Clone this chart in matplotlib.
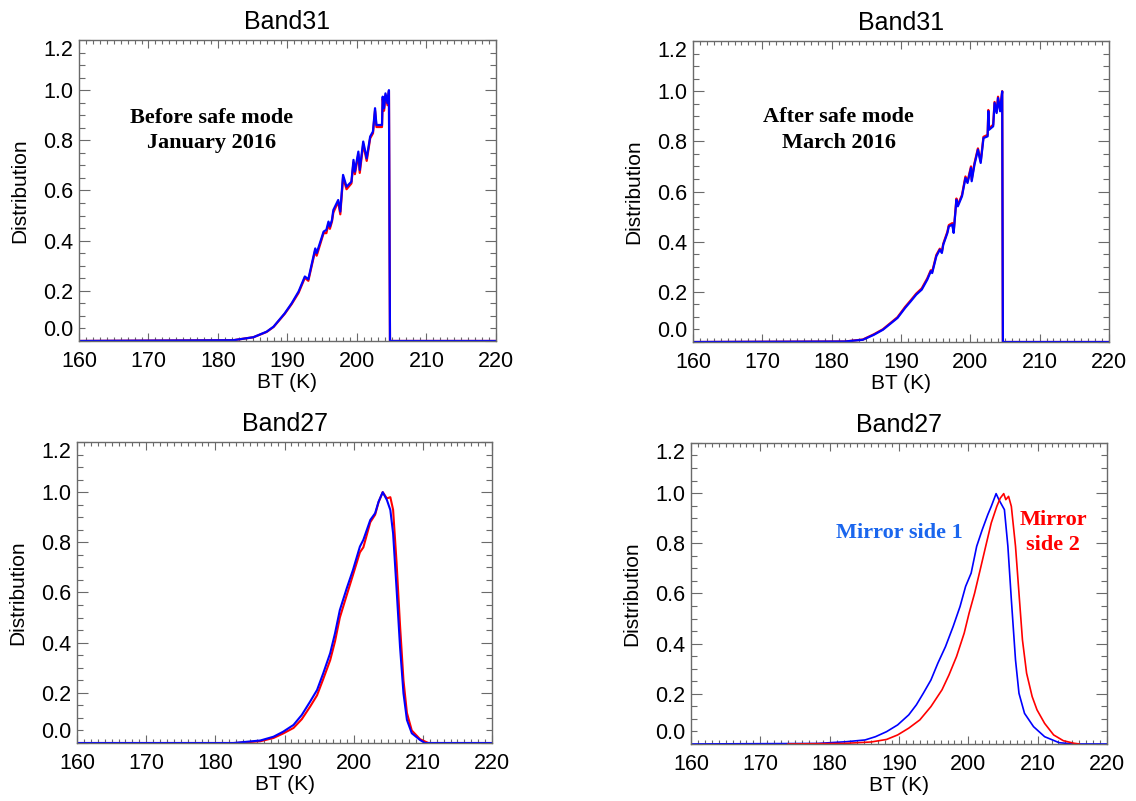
import matplotlib
matplotlib.use("Agg")
import matplotlib.pyplot as plt
from matplotlib.ticker import MultipleLocator

plt.rcParams['font.family'] = ['Liberation Sans', 'DejaVu Sans']

# ---- Band31, before safe mode (January 2016) ----
b31_jan_x = [160, 182.2, 185.1, 187.0, 188.0, 189.6, 190.6, 191.6, 192.5, 193.0, 194.0, 194.2,
             195.2, 195.6, 195.9, 196.1, 196.4, 196.6, 197.3, 197.6, 198.0, 198.5, 199.2,
             199.5, 199.7, 200.2, 200.4, 200.9, 201.4, 201.9, 202.3, 202.6, 202.8, 203.6,
             203.7, 203.9, 204.1, 204.4, 204.6, 204.75, 220]
b31_jan_ms1 = [0, 0.003, 0.015, 0.037, 0.057, 0.110, 0.150, 0.197, 0.257, 0.246, 0.369, 0.350,
               0.436, 0.443, 0.476, 0.456, 0.482, 0.522, 0.562, 0.516, 0.662, 0.615, 0.635,
               0.722, 0.675, 0.755, 0.682, 0.795, 0.728, 0.815, 0.835, 0.928, 0.861, 0.861,
               0.974, 0.928, 0.987, 0.948, 1.0, 0, 0]
b31_jan_ms2 = [0, 0.003, 0.015, 0.036, 0.056, 0.108, 0.147, 0.192, 0.252, 0.240, 0.362, 0.340,
               0.430, 0.430, 0.468, 0.447, 0.476, 0.512, 0.555, 0.505, 0.652, 0.605, 0.628,
               0.712, 0.665, 0.745, 0.670, 0.785, 0.718, 0.808, 0.828, 0.918, 0.853, 0.853,
               0.966, 0.918, 0.980, 0.940, 0.995, 0, 0]

# ---- Band31, after safe mode (March 2016) ----
b31_mar_x = [160, 181.9, 184.5, 186.1, 187.4, 189.5, 190.6, 191.4, 192.2, 193.0, 193.8, 194.3,
             194.5, 195.1, 195.6, 195.9, 196.1, 196.7, 196.9, 197.4, 197.6, 198.0, 198.2,
             198.8, 199.3, 199.6, 200.1, 200.2, 200.6, 201.1, 201.5, 201.9, 202.5, 202.6,
             202.7, 203.3, 203.5, 203.8, 204.0, 204.3, 204.6, 204.7, 220]
b31_mar_ms1 = [0, 0.002, 0.009, 0.029, 0.049, 0.096, 0.136, 0.162, 0.189, 0.209, 0.249, 0.282,
               0.275, 0.342, 0.368, 0.355, 0.388, 0.435, 0.461, 0.468, 0.435, 0.567, 0.541,
               0.581, 0.654, 0.634, 0.694, 0.641, 0.707, 0.767, 0.714, 0.813, 0.820, 0.920,
               0.846, 0.860, 0.953, 0.913, 0.973, 0.920, 0.999, 0, 0]
b31_mar_ms2 = [0, 0.002, 0.010, 0.031, 0.051, 0.099, 0.140, 0.166, 0.193, 0.214, 0.254, 0.286,
               0.280, 0.347, 0.372, 0.360, 0.392, 0.440, 0.466, 0.474, 0.440, 0.572, 0.547,
               0.586, 0.660, 0.640, 0.700, 0.648, 0.713, 0.772, 0.720, 0.818, 0.826, 0.925,
               0.852, 0.866, 0.957, 0.918, 0.978, 0.926, 1.0, 0, 0]

# ---- Band27, before safe mode ----
b27_jan_x1 = [160, 182.6, 186.5, 188.4, 189.8, 191.3, 192.5, 193.7, 194.7, 195.6, 196.6, 197.3,
              198.0, 199.0, 199.9, 200.9, 201.4, 202.4, 203.1, 203.6, 204.2, 204.8, 205.3,
              205.7, 206.2, 206.7, 207.2, 207.7, 208.4, 209.6, 210.3, 220]
b27_jan_ms1 = [0, 0, 0.010, 0.025, 0.045, 0.072, 0.112, 0.165, 0.211, 0.278, 0.358, 0.437,
               0.530, 0.617, 0.690, 0.783, 0.810, 0.889, 0.916, 0.962, 1.0, 0.969, 0.929,
               0.836, 0.615, 0.384, 0.198, 0.092, 0.039, 0.012, 0, 0]
b27_jan_x2 = [160, 183.0, 186.5, 188.4, 189.8, 191.3, 192.5, 193.7, 194.7, 195.6, 196.6, 197.3,
              198.0, 199.0, 199.9, 200.9, 201.4, 202.4, 203.1, 203.6, 204.2, 204.8, 205.3,
              205.7, 206.2, 206.7, 207.2, 207.7, 208.4, 209.6, 210.8, 220]
b27_jan_ms2 = [0, 0, 0.007, 0.020, 0.038, 0.060, 0.095, 0.145, 0.190, 0.255, 0.330, 0.405,
               0.500, 0.590, 0.670, 0.760, 0.780, 0.880, 0.910, 0.960, 1.0, 0.975, 0.980,
               0.930, 0.720, 0.470, 0.250, 0.120, 0.050, 0.015, 0, 0]

# ---- Band27, after safe mode: mirror side 1 vs mirror side 2 ----
b27_mar_x1 = [160, 178.2, 182.4, 185.1, 186.6, 188.2, 189.8, 191.4, 192.5, 193.5, 194.6, 195.6,
              196.7, 197.8, 198.8, 199.6, 200.4, 201.2, 202.0, 202.8, 203.3, 204.0, 204.4,
              205.2, 205.7, 206.2, 206.8, 207.3, 208.1, 209.4, 211.0, 213.1, 215.2, 220]
b27_mar_ms1 = [0, 0.002, 0.009, 0.016, 0.029, 0.049, 0.076, 0.116, 0.156, 0.202, 0.255, 0.322,
               0.388, 0.468, 0.548, 0.628, 0.681, 0.788, 0.854, 0.914, 0.947, 0.998, 0.974,
               0.934, 0.788, 0.575, 0.335, 0.202, 0.122, 0.069, 0.029, 0.005, 0, 0]
b27_mar_x2 = [174, 182.0, 186.0, 188.2, 189.8, 191.4, 193.0, 194.6, 196.2, 197.2, 198.3, 199.4,
              200.1, 200.9, 201.7, 202.5, 203.3, 204.1, 204.6, 205.1, 205.4, 205.8, 206.2,
              206.8, 207.3, 207.8, 208.4, 209.2, 209.9, 211.0, 212.3, 213.7, 215.2, 216.0]
b27_mar_ms2 = [0, 0.002, 0.008, 0.018, 0.036, 0.063, 0.096, 0.149, 0.216, 0.275, 0.349, 0.442,
               0.521, 0.601, 0.694, 0.788, 0.881, 0.947, 0.980, 0.998, 0.974, 0.987, 0.947,
               0.788, 0.601, 0.415, 0.282, 0.189, 0.136, 0.082, 0.036, 0.013, 0.003, 0]

FRAME = '#6a6a6a'
BLUE_TXT = '#1a66ee'
SERIF = ['Liberation Serif', 'DejaVu Serif']


def style_axes(ax, title):
    ax.set_xlim(160, 220)
    ax.set_ylim(0, 1.2)
    ax.set_xticks([160, 170, 180, 190, 200, 210, 220])
    ax.set_yticks([0.0, 0.2, 0.4, 0.6, 0.8, 1.0, 1.2])
    ax.set_yticklabels(['0.0', '0.2', '0.4', '0.6', '0.8', '1.0', '1.2'])
    ax.xaxis.set_minor_locator(MultipleLocator(1))
    ax.yaxis.set_minor_locator(MultipleLocator(0.05))
    ax.tick_params(axis='both', which='both', direction='in', top=True, right=True,
                   color=FRAME, labelsize=15.5, width=0.8)
    ax.tick_params(axis='x', which='major', length=5.5, pad=7)
    ax.tick_params(axis='x', which='minor', length=2.7)
    ax.tick_params(axis='y', which='major', length=8, pad=4)
    ax.tick_params(axis='y', which='minor', length=4)
    for sp in ax.spines.values():
        sp.set_color(FRAME)
        sp.set_linewidth(1.0)
    ax.set_title(title, fontsize=18, pad=8)
    ax.set_xlabel('BT (K)', fontsize=15, labelpad=1)
    ax.set_ylabel('Distribution', fontsize=15, labelpad=10)
    ticks = ax.yaxis.get_major_ticks()
    ticks[0].label1.set_va('bottom')
    ticks[-1].label1.set_va('top')


fig = plt.figure(figsize=(11.36, 8.01), dpi=100)
ax_tl = fig.add_axes([0.0695, 0.5743, 0.3671, 0.3758])
ax_tr = fig.add_axes([0.6100, 0.5730, 0.3662, 0.3758])
ax_bl = fig.add_axes([0.0678, 0.0724, 0.3653, 0.3758])
ax_br = fig.add_axes([0.6083, 0.0712, 0.3662, 0.3758])

ax_tl.plot(b31_jan_x, b31_jan_ms2, color='red', lw=1.6)
ax_tl.plot(b31_jan_x, b31_jan_ms1, color='blue', lw=1.6)
ax_tl.text(179.1, 0.84, 'Before safe mode\nJanuary 2016', ha='center', va='center',
           fontsize=16, fontweight='bold', family=SERIF, linespacing=1.35)
style_axes(ax_tl, 'Band31')

ax_tr.plot(b31_mar_x, b31_mar_ms2, color='red', lw=1.6)
ax_tr.plot(b31_mar_x, b31_mar_ms1, color='blue', lw=1.6)
ax_tr.text(181.0, 0.845, 'After safe mode\nMarch 2016', ha='center', va='center',
           fontsize=16, fontweight='bold', family=SERIF, linespacing=1.35)
style_axes(ax_tr, 'Band31')

ax_bl.plot(b27_jan_x2, b27_jan_ms2, color='red', lw=1.5)
ax_bl.plot(b27_jan_x1, b27_jan_ms1, color='blue', lw=1.5)
style_axes(ax_bl, 'Band27')

ax_br.plot(b27_mar_x1, b27_mar_ms1, color='blue', lw=1.2)
ax_br.plot(b27_mar_x2, b27_mar_ms2, color='red', lw=1.2)
ax_br.text(190.1, 0.843, 'Mirror side 1', ha='center', va='center', color=BLUE_TXT,
           fontsize=16, fontweight='bold', family=SERIF)
ax_br.text(212.25, 0.843, 'Mirror\nside 2', ha='center', va='center', color='red',
           fontsize=16, fontweight='bold', family=SERIF, linespacing=1.35)
style_axes(ax_br, 'Band27')

fig.savefig('out.png', dpi=100)
